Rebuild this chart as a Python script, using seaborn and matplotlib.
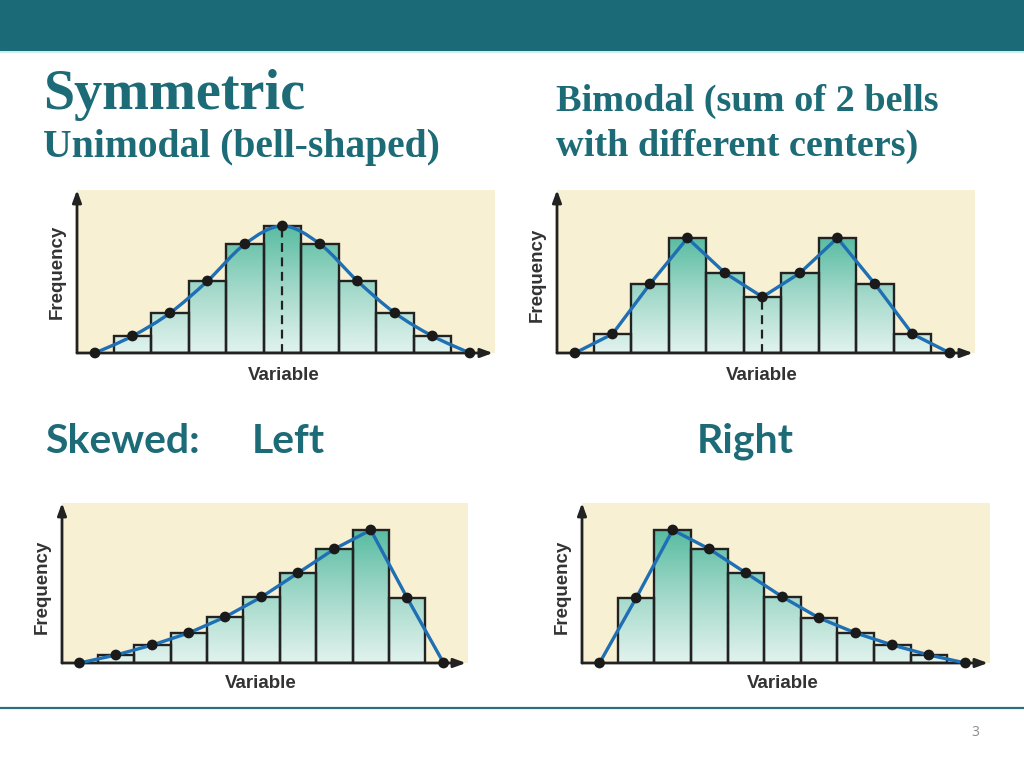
import numpy as np
import matplotlib
matplotlib.use("Agg")
import matplotlib.pyplot as plt
from matplotlib.colors import LinearSegmentedColormap
from matplotlib.path import Path
from matplotlib.patches import PathPatch, Rectangle
import seaborn as sns

# bar heights (arbitrary frequency units), 9 bins per histogram
bins = [0, 1, 2, 3, 4, 5, 6, 7, 8]
symmetric = [17, 40, 72, 109, 127, 109, 72, 40, 17]
bimodal = [19, 69, 115, 80, 56, 80, 115, 69, 19]
left_skew = [8, 18, 30, 46, 66, 90, 114, 133, 65]
right_skew = [65, 133, 114, 90, 66, 45, 30, 18, 8]

teal = "#1c6b76"
bg_cream = "#f7f0d2"
edge = "#222222"
blue = "#1f6fb4"
grad_cmap = LinearSegmentedColormap.from_list("tealgrad", ["#e2f3ee", "#a3d9ca", "#58bca1"])

sns.set_theme(style="white")
W, H = 1024, 768
fig = plt.figure(figsize=(W / 100, H / 100), dpi=100)
fig.patch.set_facecolor("white")


def fx(x):
    return x / W


def fy(y):
    return 1 - y / H


def smooth_path(xs, ys):
    # catmull-rom through the polygon points, drawn as cubic bezier segments
    px = np.r_[xs[0], xs, xs[-1]]
    py = np.r_[ys[0], ys, ys[-1]]
    verts = [(xs[0], ys[0])]
    codes = [Path.MOVETO]
    for i in range(1, len(px) - 2):
        c1 = (px[i] + (px[i + 1] - px[i - 1]) / 6, py[i] + (py[i + 1] - py[i - 1]) / 6)
        c2 = (px[i + 1] - (px[i + 2] - px[i]) / 6, py[i + 1] - (py[i + 2] - py[i]) / 6)
        verts += [c1, c2, (px[i + 1], py[i + 1])]
        codes += [Path.CURVE4] * 3
    return Path(verts, codes)


def panel(rect_px, values, ytop, smooth=False, dash_at=None):
    left, top, right, bottom = rect_px
    ax = fig.add_axes([fx(left), fy(bottom), (right - left) / W, (bottom - top) / H])
    ax.set_facecolor(bg_cream)
    sns.barplot(x=bins, y=values, native_scale=True, width=1, fill=False,
                color=edge, linewidth=1.7, ax=ax, zorder=2)
    grad = np.linspace(0, 1, 256).reshape(-1, 1)
    vmax = max(values)
    for p in ax.patches:
        x0 = p.get_x()
        im = ax.imshow(grad, extent=(x0, x0 + p.get_width(), 0, vmax), origin="lower",
                       aspect="auto", cmap=grad_cmap, zorder=1)
        im.set_clip_path(p)
    if dash_at is not None:
        ax.vlines(bins[dash_at], 0, values[dash_at], colors=edge, linestyles=(0, (4, 2.5)),
                  linewidth=1.6, zorder=3)
    poly_x = np.r_[bins[0] - 1, bins, bins[-1] + 1]
    poly_y = np.r_[0, values, 0]
    if smooth:
        ax.add_patch(PathPatch(smooth_path(poly_x, poly_y), fill=False, edgecolor=blue,
                               linewidth=2.4, zorder=4, clip_on=False))
    else:
        sns.lineplot(x=poly_x, y=poly_y, color=blue, linewidth=2.4, ax=ax, zorder=4,
                     clip_on=False, sort=False)
    sns.scatterplot(x=poly_x, y=poly_y, color="#1a1a1a", s=60, edgecolor="none",
                    ax=ax, zorder=5, clip_on=False)
    ax.set_xlim(-1.48, 9.67)
    ax.set_ylim(0, ytop)
    ax.set_xticks([])
    ax.set_yticks([])
    ax.set_xlabel("")
    ax.set_ylabel("")
    for s in ax.spines.values():
        s.set_visible(False)
    arrow = dict(arrowstyle="-|>,head_length=0.6,head_width=0.22", color=edge, lw=2.0,
                 shrinkA=0, shrinkB=0)
    ax.annotate("", xy=(0.995, 0), xytext=(0, 0), xycoords="axes fraction",
                textcoords="axes fraction", arrowprops=arrow, annotation_clip=False)
    ax.annotate("", xy=(0, 1.0), xytext=(0, 0), xycoords="axes fraction",
                textcoords="axes fraction", arrowprops=arrow, annotation_clip=False)
    return ax


panel((77, 190, 495, 353), symmetric, 163, smooth=True, dash_at=4)
panel((557, 190, 975, 353), bimodal, 163, dash_at=4)
panel((62, 503, 468, 663), left_skew, 160)
panel((582, 503, 990, 663), right_skew, 160)

lab = dict(fontsize=13.5, fontweight="bold", color="#333333", family="Liberation Sans",
           ha="center", va="center")
for (x, y) in [(57, 272), (537, 275), (42, 587), (562, 587)]:
    fig.text(fx(x), fy(y), "Frequency", rotation=90, **lab)
for (x, y) in [(284, 376), (762, 376), (261, 683), (783, 684)]:
    fig.text(fx(x), fy(y), "Variable", **lab)

# slide decorations
fig.patches.append(Rectangle((0, fy(50)), 1, 50 / H, transform=fig.transFigure,
                             color="#1a6b77", zorder=0))
fig.lines.append(plt.Line2D([0, 1], [fy(51.5), fy(51.5)], transform=fig.transFigure,
                            color="#c8eef2", linewidth=1.2))
fig.lines.append(plt.Line2D([0, 1], [fy(708), fy(708)], transform=fig.transFigure,
                            color="#2b6f7a", linewidth=1.6))

serif = dict(family="Liberation Serif", fontweight="bold", color=teal, va="baseline")
fig.text(fx(43), fy(109), "Symmetric", fontsize=40.5, **serif)
fig.text(fx(43), fy(157), "Unimodal (bell-shaped)", fontsize=28.5, **serif)
fig.text(fx(556), fy(111), "Bimodal (sum of 2 bells", fontsize=27.5, **serif)
fig.text(fx(556), fy(156), "with different centers)", fontsize=27.5, **serif)

sans = dict(family="Lato", fontweight="bold", color=teal, va="baseline", fontsize=29.5)
fig.text(fx(45), fy(453), "Skewed:", **sans)
fig.text(fx(252), fy(453), "Left", **sans)
fig.text(fx(697), fy(453), "Right", **sans)

fig.text(fx(975), fy(733), "3", fontsize=10, color="#8c8c8c", family="Open Sans",
         ha="center", va="center")

fig.savefig("out.png", dpi=100)
